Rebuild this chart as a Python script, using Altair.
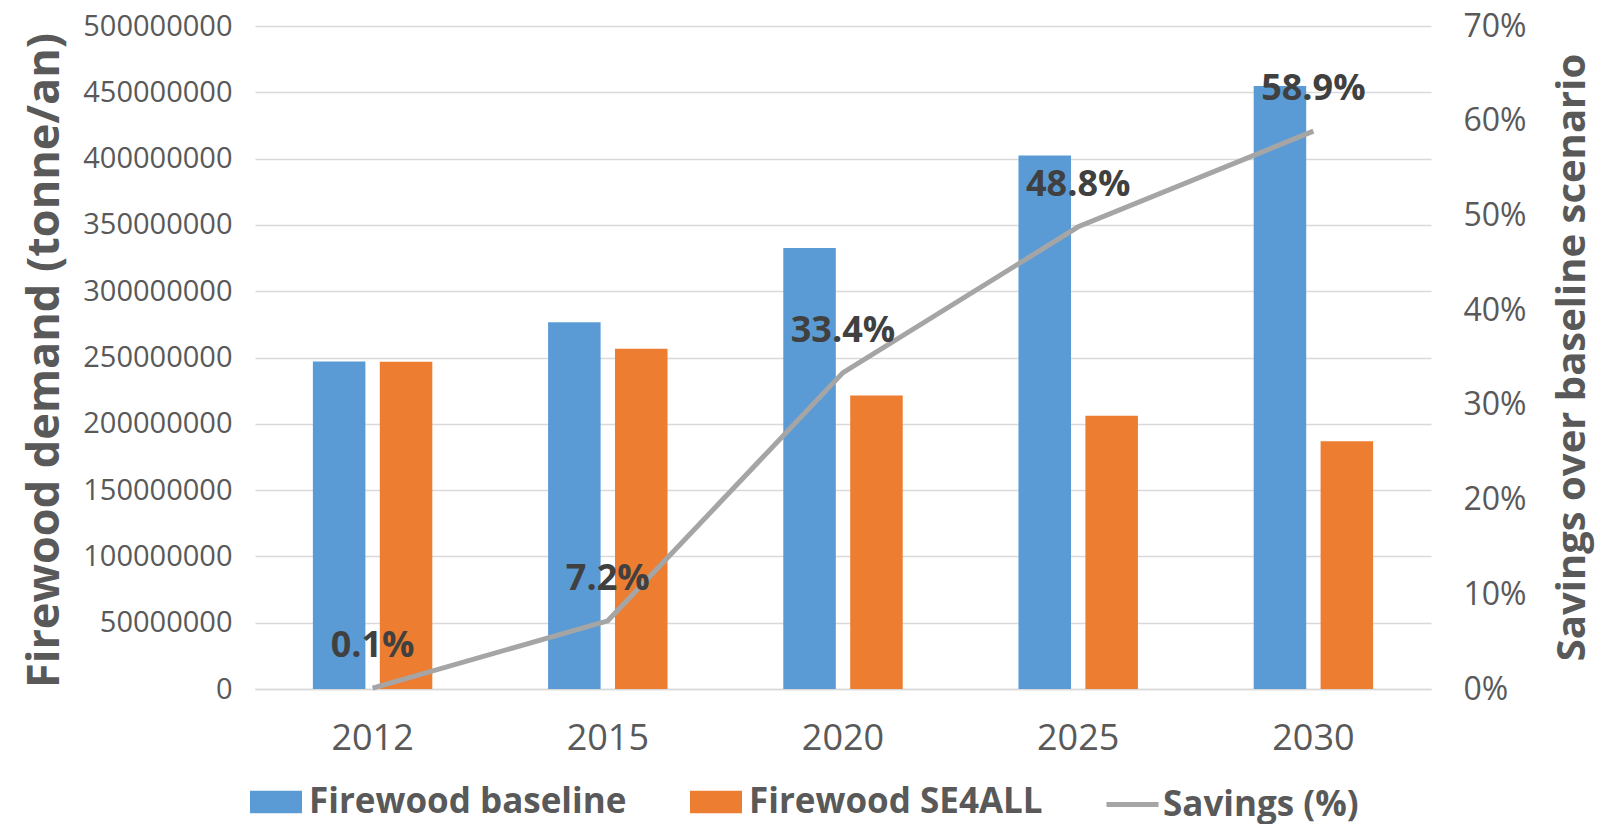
import altair as alt
import pandas as pd

years = ["2012", "2015", "2020", "2025", "2030"]
baseline = [247.0e6, 276.5e6, 332.5e6, 402.4e6, 454.8e6]
se4all = [246.8e6, 256.6e6, 221.4e6, 206.0e6, 186.9e6]
savings = [0.001, 0.072, 0.334, 0.488, 0.589]
savings_labels = ["0.1%", "7.2%", "33.4%", "48.8%", "58.9%"]

bar_series = ["Firewood baseline", "Firewood SE4ALL"]
bar_colors = ["#5B9BD5", "#ED7D31"]
line_series = ["Savings (%)"]
line_colors = ["#A5A5A5"]

rows = []
for y, b, s in zip(years, baseline, se4all):
    rows.append({"year": y, "series": bar_series[0], "value": b})
    rows.append({"year": y, "series": bar_series[1], "value": s})
bars_df = pd.DataFrame(rows)
line_df = pd.DataFrame({"year": years, "savings": savings, "label": savings_labels,
                        "series": line_series[0]})

RECT = "M-1,-0.43H1V0.43H-1Z"
TEXT = "#595959"
FONT = "Open Sans"

x_enc = alt.X("year:N", sort=years,
              scale=alt.Scale(paddingInner=0, paddingOuter=0),
              axis=alt.Axis(title=None, labelAngle=0, ticks=False, grid=False,
                            domainColor="#D9D9D9", domainWidth=1.5,
                            labelFont=FONT, labelFontSize=36, labelColor=TEXT,
                            labelPadding=32))

legend_common = dict(title=None, orient="none", direction="horizontal",
                     labelFont=FONT, labelFontSize=35, labelFontWeight="bold",
                     labelColor=TEXT, columnPadding=63, labelLimit=600)

bars = alt.Chart(bars_df).mark_bar().encode(
    x=x_enc,
    xOffset=alt.XOffset("series:N", sort=bar_series,
                        scale=alt.Scale(paddingInner=0.215, paddingOuter=0.865)),
    y=alt.Y("value:Q",
            scale=alt.Scale(domain=[0, 500e6], nice=False),
            axis=alt.Axis(title="Firewood demand (tonne/an)", format="d",
                          values=[i * 50e6 for i in range(11)],
                          ticks=False, domain=False, grid=True,
                          gridColor="#D9D9D9", gridWidth=1.5,
                          labelFont=FONT, labelFontSize=29, labelColor=TEXT,
                          labelPadding=23,
                          titleFont=FONT, titleFontSize=45, titleFontWeight="bold",
                          titleColor=TEXT, titleAngle=270, titleX=-211, titleY=334,
                          titleAlign="center", titleBaseline="middle")),
    fill=alt.Fill("series:N", sort=bar_series,
                  scale=alt.Scale(domain=bar_series, range=bar_colors),
                  legend=alt.Legend(legendX=-5, legendY=750, symbolType=RECT,
                                    symbolSize=2704, symbolStrokeWidth=0,
                                    labelOffset=7, **legend_common)),
)

line = alt.Chart(line_df).mark_line(strokeWidth=5).encode(
    x=alt.X("year:N", sort=years),
    y=alt.Y("savings:Q",
            scale=alt.Scale(domain=[0, 0.7], nice=False),
            axis=alt.Axis(title="Savings over baseline scenario", orient="right",
                          format=".0%", values=[i / 10 for i in range(8)],
                          ticks=False, domain=False, grid=False,
                          labelFont=FONT, labelFontSize=32, labelColor=TEXT,
                          labelPadding=32,
                          titleFont=FONT, titleFontSize=40, titleFontWeight="bold",
                          titleColor=TEXT, titleAngle=270, titleX=141, titleY=331,
                          titleAlign="center", titleBaseline="middle")),
    stroke=alt.Stroke("series:N",
                      scale=alt.Scale(domain=line_series, range=line_colors),
                      legend=alt.Legend(legendX=849, legendY=750, symbolType="stroke",
                                        symbolSize=2704, symbolStrokeWidth=5,
                                        labelOffset=2, **legend_common)),
)

text = alt.Chart(line_df).mark_text(
    font=FONT, fontSize=36, fontWeight="bold", color="#404040",
    dy=-42, baseline="middle", align="center",
).encode(
    x=alt.X("year:N", sort=years),
    y=alt.Y("savings:Q"),
    text="label:N",
)

chart = alt.layer(bars, alt.layer(line, text)).resolve_scale(
    y="independent"
).properties(
    width=1176, height=663,
    autosize=alt.AutoSizeParams(type="none"),
    padding={"left": 247, "top": 18, "right": 167, "bottom": 135},
).configure_view(stroke=None)

chart.save("out.html", embed_options={"renderer": "svg", "actions": False})
